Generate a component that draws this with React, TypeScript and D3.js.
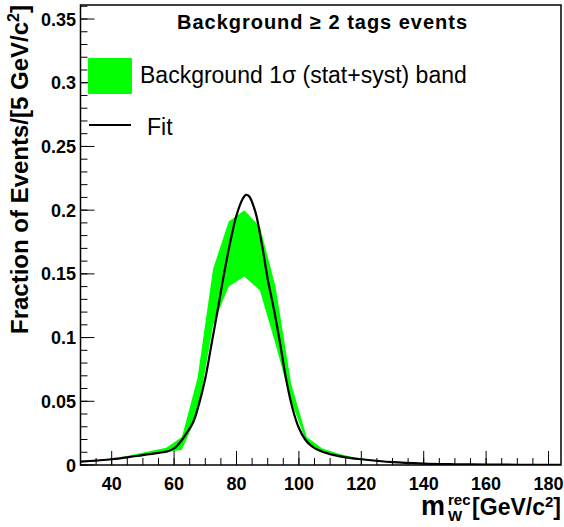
import React from "react";
import * as d3 from "d3";

// ---- data ----
// band: bin centres (GeV/c^2), lower and upper edges of the 1 sigma band
const bandX = [32.5, 37.5, 42.5, 47.5, 52.5, 57.5, 62.5, 67.5, 72.5, 77.5, 82.5, 87.5, 92.5, 97.5, 102.5, 107.5, 112.5, 117.5, 122.5, 127.5, 132.5, 137.5, 142.5, 147.5, 152.5, 157.5, 162.5, 167.5, 172.5, 177.5, 182.5];
const bandLo = [0.003, 0.004, 0.005, 0.0065, 0.0085, 0.010, 0.012, 0.040, 0.110, 0.140, 0.148, 0.137, 0.095, 0.050, 0.017, 0.011, 0.007, 0.005, 0.0035, 0.0025, 0.0016, 0.0011, 0.0008, 0.0006, 0.0004, 0.0003, 0.0002, 0.0002, 0.0001, 0.0001, 0.0001];
const bandHi = [0.0035, 0.0045, 0.0058, 0.0085, 0.011, 0.0135, 0.022, 0.068, 0.154, 0.191, 0.200, 0.187, 0.140, 0.064, 0.022, 0.013, 0.009, 0.006, 0.0045, 0.003, 0.002, 0.0014, 0.001, 0.0007, 0.0005, 0.0004, 0.0003, 0.0002, 0.0002, 0.0001, 0.0001];

// fit curve
const fitX = [30, 35, 40, 45, 50, 55, 58, 60, 62, 64, 66, 68, 70, 72, 74, 76, 78, 80, 82, 83, 84, 86, 88, 90, 92, 94, 96, 98, 100, 102, 104, 106, 110, 115, 120, 130, 140, 150, 160, 170, 184];
const fitY = [0.0026, 0.0035, 0.0045, 0.006, 0.0078, 0.0095, 0.0108, 0.013, 0.018, 0.025, 0.033, 0.048, 0.068, 0.095, 0.122, 0.150, 0.175, 0.196, 0.209, 0.212, 0.211, 0.199, 0.175, 0.146, 0.122, 0.095, 0.066, 0.044, 0.029, 0.020, 0.015, 0.012, 0.0085, 0.006, 0.0045, 0.0022, 0.0011, 0.0006, 0.0003, 0.0002, 0.0001];

const xDomain = [30, 184];
const yDomain = [0, 0.361];

const titleText = "Background  \u2265 2 tags events";
const legendBand = "Background 1\u03c3 (stat+syst) band";
const legendFit = "Fit";

const W = 564;
const H = 527;
const M = { left: 80.5, right: 561, top: 5, bottom: 465 };
const FONT = "'Liberation Sans', Arial, Helvetica, sans-serif";

export default function App() {
  const x = d3.scaleLinear().domain(xDomain).range([M.left, M.right]);
  const y = d3.scaleLinear().domain(yDomain).range([M.bottom, M.top]);

  const bandData = bandX.map((bx, i) => ({ x: bx, lo: bandLo[i], hi: bandHi[i] }));
  const area = d3
    .area<{ x: number; lo: number; hi: number }>()
    .x((d) => x(d.x))
    .y0((d) => y(d.lo))
    .y1((d) => y(d.hi));

  const fitData = fitX.map((fx, i) => [fx, fitY[i]] as [number, number]);
  const line = d3
    .line<[number, number]>()
    .x((d) => x(d[0]))
    .y((d) => y(d[1]))
    .curve(d3.curveCatmullRom.alpha(0.5));

  const xMajor = x.ticks(8);
  const xMinor = x.ticks(30);
  const yMajor = y.ticks(8);
  const yMinor = y.ticks(36);

  const fmt = (v: number) => String(+v.toFixed(3));

  return (
    <svg
      width={W}
      height={H}
      style={{ position: "absolute", left: 0, top: 0, background: "#fff" }}
      fontFamily={FONT}
    >
      <rect x={0} y={0} width={W} height={H} fill="#fff" />
      <defs>
        <clipPath id="plotclip">
          <rect x={M.left} y={M.top} width={M.right - M.left} height={M.bottom - M.top} />
        </clipPath>
      </defs>

      <g clipPath="url(#plotclip)">
        <path d={area(bandData) || ""} fill="#00ff00" stroke="none" />
        <path d={line(fitData) || ""} fill="none" stroke="#000" strokeWidth={2.2} />
      </g>

      {/* x ticks */}
      {xMinor.map((t) => (
        <line key={"xm" + t} x1={x(t)} x2={x(t)} y1={M.bottom} y2={M.bottom - 7} stroke="#000" strokeWidth={1} />
      ))}
      {xMajor.map((t) => (
        <line key={"xM" + t} x1={x(t)} x2={x(t)} y1={M.bottom} y2={M.bottom - 14} stroke="#000" strokeWidth={1} />
      ))}
      {xMajor.map((t) => (
        <text key={"xl" + t} x={x(t)} y={490} textAnchor="middle" fontSize={18} fontWeight="bold">
          {fmt(t)}
        </text>
      ))}

      {/* y ticks */}
      {yMinor.map((t) => (
        <line key={"ym" + t} x1={M.left} x2={M.left + 7} y1={y(t)} y2={y(t)} stroke="#000" strokeWidth={1} />
      ))}
      {yMajor.map((t) => (
        <line key={"yM" + t} x1={M.left} x2={M.left + 14} y1={y(t)} y2={y(t)} stroke="#000" strokeWidth={1} />
      ))}
      {yMajor.map((t) => (
        <text key={"yl" + t} x={76} y={y(t) + 6.5} textAnchor="end" fontSize={18} fontWeight="bold">
          {fmt(t)}
        </text>
      ))}

      {/* frame */}
      <rect
        x={M.left}
        y={M.top}
        width={M.right - M.left}
        height={M.bottom - M.top}
        fill="none"
        stroke="#000"
        strokeWidth={1.5}
      />

      {/* header */}
      <text x={177} y={29} fontSize={20} fontWeight="bold" textLength={290} lengthAdjust="spacing">
        {titleText}
      </text>

      {/* legend */}
      <rect x={88} y={58} width={44} height={36} fill="#00ff00" rx={1} />
      <text x={140} y={83} fontSize={23}>
        {legendBand}
      </text>
      <line x1={89} x2={131} y1={125} y2={125} stroke="#000" strokeWidth={2} />
      <text x={147} y={135} fontSize={23}>
        {legendFit}
      </text>

      {/* y title */}
      <text
        transform="translate(28,5) rotate(-90)"
        textAnchor="end"
        fontSize={24}
        fontWeight="bold"
      >
        Fraction of Events/[5 GeV/c
        <tspan fontSize={16} dy={-9}>2</tspan>
        <tspan dy={9}>]</tspan>
      </text>

      {/* x title */}
      <text x={421} y={515} fontSize={27} fontWeight="bold">m</text>
      <text x={448} y={505} fontSize={15} fontWeight="bold">rec</text>
      <text x={448} y={521} fontSize={15} fontWeight="bold">W</text>
      <text x={561} y={515} textAnchor="end" fontSize={23} fontWeight="bold">
        [GeV/c
        <tspan fontSize={15} dy={-8}>2</tspan>
        <tspan dy={8}>]</tspan>
      </text>
    </svg>
  );
}
